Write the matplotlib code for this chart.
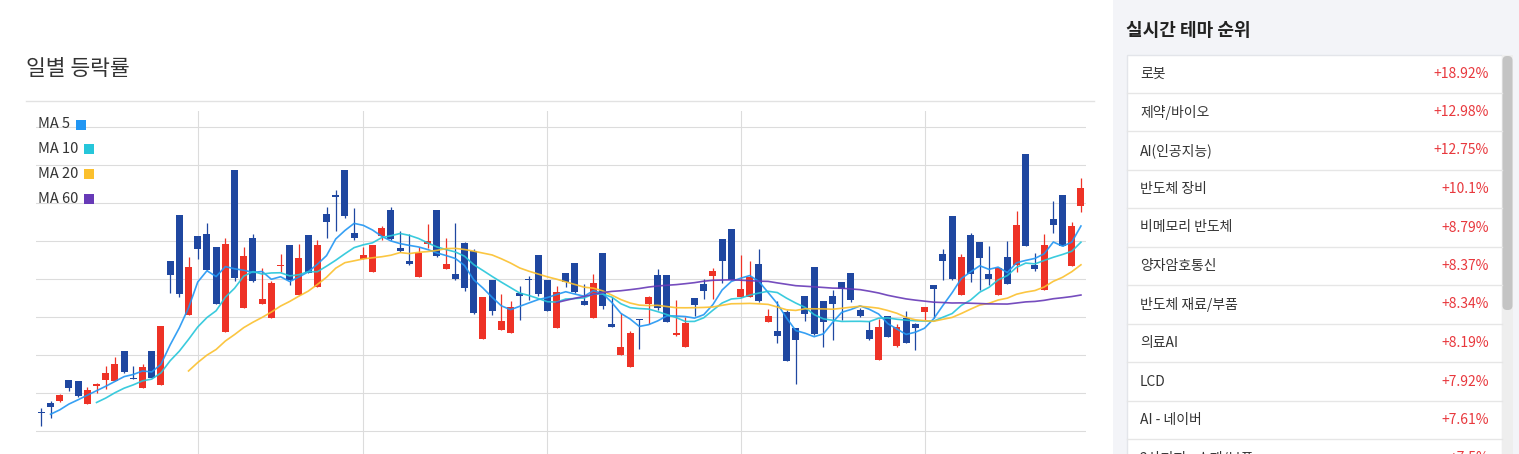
import numpy as np
import pandas as pd
import matplotlib
matplotlib.use("Agg")
import matplotlib.pyplot as plt
import matplotlib.transforms as mtransforms
from matplotlib.patches import Rectangle, FancyBboxPatch
from matplotlib.lines import Line2D

plt.rcParams['font.family'] = ['Noto Sans CJK KR', 'DejaVu Sans']

W, H = 1519, 454

# daily candles, index points (one gridline = 38 points)
open_ = [18.8, 28.0, 30.6, 51.3, 50.3, 27.6, 46.0, 51.6, 50.6, 80.3, 53.3, 43.6, 80.3, 46.6,
         170.3, 216.3, 116.6, 195.3, 197.3, 184.3, 99.6, 261.3, 123.6, 193.3, 127.6, 113.6, 165.6, 186.3,
         136.3, 196.3, 144.6, 217.3, 236.0, 261.3, 198.3, 172.3, 159.6, 195.3, 221.3, 183.3, 170.3, 154.6,
         187.6, 221.3, 162.6, 157.3, 188.3, 180.3, 92.6, 151.3, 101.6, 98.6, 138.3, 152.3, 176.3, 151.3,
         103.6, 158.3, 168.3, 130.3, 113.6, 178.3, 107.3, 76.6, 64.6, 112.3, 127.6, 156.3, 156.3, 96.6,
         84.6, 133.3, 147.3, 155.6, 192.3, 202.3, 134.3, 134.6, 167.3, 109.6, 100.3, 119.3, 103.3, 135.3,
         164.3, 130.3, 135.3, 149.3, 158.3, 121.3, 101.3, 71.6, 115.3, 85.6, 113.3, 107.3, 119.3, 146.3, 177.3,
         215.3, 136.3, 196.3, 189.3, 157.3, 136.3, 174.3, 166.3, 277.3, 166.3, 141.3, 212.3, 236.3, 165.3, 225.3]
high = [23.0, 30.3, 37.3, 51.3, 50.3, 44.3, 48.0, 65.0, 74.3, 80.3, 65.0, 67.3, 80.3, 105.3,
        170.3, 216.3, 174.3, 195.3, 208.3, 184.3, 193.3, 261.3, 184.3, 197.3, 163.3, 150.6, 177.3, 186.3,
        187.3, 196.3, 191.3, 224.3, 241.3, 261.3, 223.3, 184.3, 186.3, 205.3, 224.3, 200.3, 197.3, 184.3,
        207.3, 221.3, 193.3, 208.3, 189.3, 182.3, 134.3, 151.3, 137.3, 130.3, 145.3, 155.3, 176.3, 151.3,
        145.3, 158.3, 168.3, 147.3, 157.3, 178.3, 134.3, 118.3, 100.6, 112.3, 135.3, 162.3, 156.3, 131.3,
        114.6, 133.3, 152.3, 163.3, 192.3, 202.3, 176.3, 170.3, 182.3, 122.3, 130.3, 121.3, 103.3, 135.3,
        164.3, 130.3, 141.3, 149.3, 158.3, 123.3, 110.3, 112.3, 115.3, 107.3, 120.3, 108.3, 124.3, 146.3, 182.3,
        215.3, 177.3, 198.3, 189.3, 185.3, 163.3, 190.3, 220.3, 277.3, 178.3, 197.3, 230.3, 236.3, 209.3, 253.3]
low = [5.6, 13.0, 29.6, 40.6, 34.6, 27.6, 38.0, 42.3, 50.6, 58.6, 52.0, 43.6, 53.6, 46.6,
       138.6, 134.6, 116.6, 172.6, 161.6, 127.6, 99.6, 150.6, 123.6, 149.6, 127.6, 113.6, 159.6, 146.6,
       136.3, 158.0, 144.6, 193.6, 200.6, 213.6, 191.6, 172.3, 159.6, 191.3, 191.3, 179.3, 166.3, 154.6,
       183.6, 174.3, 162.6, 151.6, 140.6, 117.6, 92.6, 116.6, 101.6, 98.6, 111.6, 131.3, 135.6, 120.6,
       103.6, 144.6, 138.3, 126.6, 113.6, 122.6, 104.6, 76.6, 64.6, 82.6, 107.6, 121.6, 109.6, 95.6,
       84.6, 115.6, 132.6, 132.6, 148.6, 151.3, 134.3, 134.6, 129.6, 109.6, 88.6, 70.6, 47.6, 110.6,
       96.6, 84.6, 91.6, 111.3, 129.6, 114.6, 91.6, 71.6, 94.6, 84.6, 88.6, 81.6, 111.3, 113.3, 151.3,
       151.3, 136.3, 149.3, 141.3, 146.3, 136.3, 147.3, 159.3, 185.3, 160.3, 141.3, 198.3, 185.3, 165.3, 219.3]
close = [18.6, 24.6, 36.0, 43.0, 35.6, 41.3, 47.0, 58.3, 67.3, 59.6, 52.0, 64.3, 53.6, 105.3,
         156.6, 137.6, 164.3, 182.6, 161.6, 127.6, 187.3, 153.6, 175.3, 150.6, 132.3, 148.3, 166.3, 151.3,
         173.3, 158.0, 186.3, 209.6, 234.6, 215.6, 193.6, 176.3, 186.3, 203.3, 192.3, 180.3, 167.3, 178.6,
         190.3, 175.3, 167.3, 152.6, 143.6, 118.6, 134.3, 120.6, 110.3, 124.3, 135.6, 151.0, 137.3, 120.6,
         139.3, 149.6, 139.3, 126.6, 148.3, 125.6, 104.6, 84.3, 98.6, 111.3, 134.3, 123.6, 109.6, 97.6,
         108.6, 126.6, 140.6, 160.3, 170.6, 151.3, 142.3, 154.3, 130.6, 115.3, 95.6, 70.6, 91.6, 117.6,
         97.6, 109.6, 127.6, 142.6, 131.6, 115.6, 92.6, 104.3, 94.6, 104.3, 88.6, 103.6, 124.3, 142.6, 170.3,
         152.3, 174.3, 157.3, 173.6, 152.3, 163.3, 147.3, 206.3, 185.3, 162.3, 186.3, 206.3, 185.3, 205.3, 243.3]
# closes of the three sessions before the first visible day (only feed the MAs)
prior_close = [14.0, 14.0, 14.0]

month_start = [17, 35, 55, 76, 96]

ma_windows = [5, 10, 20, 60]
ma_colors = ['#2196f3', '#26c6da', '#fbc02d', '#673ab7']

theme_names = ['로봇', '제약/바이오', 'AI(인공지능)', '반도체 장비', '비메모리 반도체', '양자암호통신',
               '반도체 재료/부품', '의료AI', 'LCD', 'AI - 네이버', '2차전지 - 소재/부품']
theme_changes = ['+18.92%', '+12.98%', '+12.75%', '+10.1%', '+8.79%', '+8.37%',
                 '+8.34%', '+8.19%', '+7.92%', '+7.61%', '+7.5%']

UP = '#ee3226'
DOWN = '#1f47a0'
GRID = '#dcdcdc'

fig = plt.figure(figsize=(W / 100, H / 100), dpi=100)
fig.patch.set_facecolor('white')
# pixel coordinates, y pointing down
px = mtransforms.Affine2D().scale(1, -1).translate(0, H).scale(1 / W, 1 / H) + fig.transFigure

# ---- candle chart ----
ax = fig.add_axes([36 / W, 0, (1086 - 36) / W, (H - 111) / H])
o = np.array(open_)
c = np.array(close)
idx = np.arange(len(c))
colors = np.where(c >= o, UP, DOWN)
min_body = 1.6
body_h = np.maximum(np.abs(c - o), min_body)
body_lo = np.where(np.abs(c - o) < min_body, (o + c) / 2 - min_body / 2, np.minimum(o, c))
ax.vlines(idx, low, high, colors=colors, lw=0.9, zorder=3)
ax.bar(idx, body_h, bottom=body_lo, width=0.76, color=colors, lw=0, zorder=3)

full = pd.Series(prior_close + close)
for w, col in zip(ma_windows, ma_colors):
    ma = full.rolling(w).mean().to_numpy()[len(prior_close):]
    ax.plot(idx, ma, color=col, lw=1.2, alpha=0.9, zorder=4)

ax.set_xlim(-0.58, len(c) - 0.45)
ax.set_ylim(-22.7, 320.3)
ax.set_yticks(np.arange(0, 305, 38))
ax.set_xticks(month_start)
ax.grid(True, color=GRID, lw=0.8)
ax.set_axisbelow(True)
ax.tick_params(length=0, labelbottom=False, labelleft=False)
for s in ax.spines.values():
    s.set_visible(False)
ax.patch.set_alpha(0)

fig.text(26, 69, '일별 등락률', transform=px, fontsize=15.5, color='#333333', va='center')
fig.add_artist(Line2D([26, 1094], [100.5, 100.5], transform=px, color='#e2e2e2', lw=1))

# MA legend
fig.canvas.draw()
renderer = fig.canvas.get_renderer()
for k, (w, col) in enumerate(zip(ma_windows, ma_colors)):
    yc = 124.5 + 24.8 * k
    t = fig.text(38, yc, f'MA {w}', transform=px, fontsize=10.5, color='#333333', va='center')
    bb = t.get_window_extent(renderer)
    fig.add_artist(Rectangle((bb.x1 + 6, yc - 5), 10, 10, transform=px, facecolor=col, lw=0))

# ---- theme ranking sidebar ----
fig.add_artist(Rectangle((1113, 0), W - 1113, H, transform=px, facecolor='#f3f4f8', lw=0, zorder=0))
fig.text(1126, 30.5, '실시간 테마 순위', transform=px, fontsize=13, fontweight='bold',
         color='#222222', va='center')
fig.add_artist(Rectangle((1127, 55), 375, 420, transform=px, facecolor='white',
                         edgecolor='#e3e5ea', lw=1))
row_h = 38.5
for k, (name, chg) in enumerate(zip(theme_names, theme_changes)):
    yc = 73.5 + row_h * k
    fig.text(1140, yc, name, transform=px, fontsize=10, color='#333333', va='center')
    fig.text(1489, yc, chg, transform=px, fontsize=10, color='#e8383d', va='center', ha='right')
    sep = 92.5 + row_h * k
    fig.add_artist(Line2D([1127, 1502], [sep, sep], transform=px, color='#e6e6e6', lw=1))

fig.add_artist(Rectangle((1502, 55), 11, 400, transform=px, facecolor='#eeeeee', lw=0))
fig.add_artist(FancyBboxPatch((1502.5, 56), 10, 254, boxstyle='round,pad=0,rounding_size=4.5',
                              transform=px, facecolor='#c4c4c4', lw=0))

fig.savefig('out.png', dpi=100, facecolor=fig.get_facecolor())
